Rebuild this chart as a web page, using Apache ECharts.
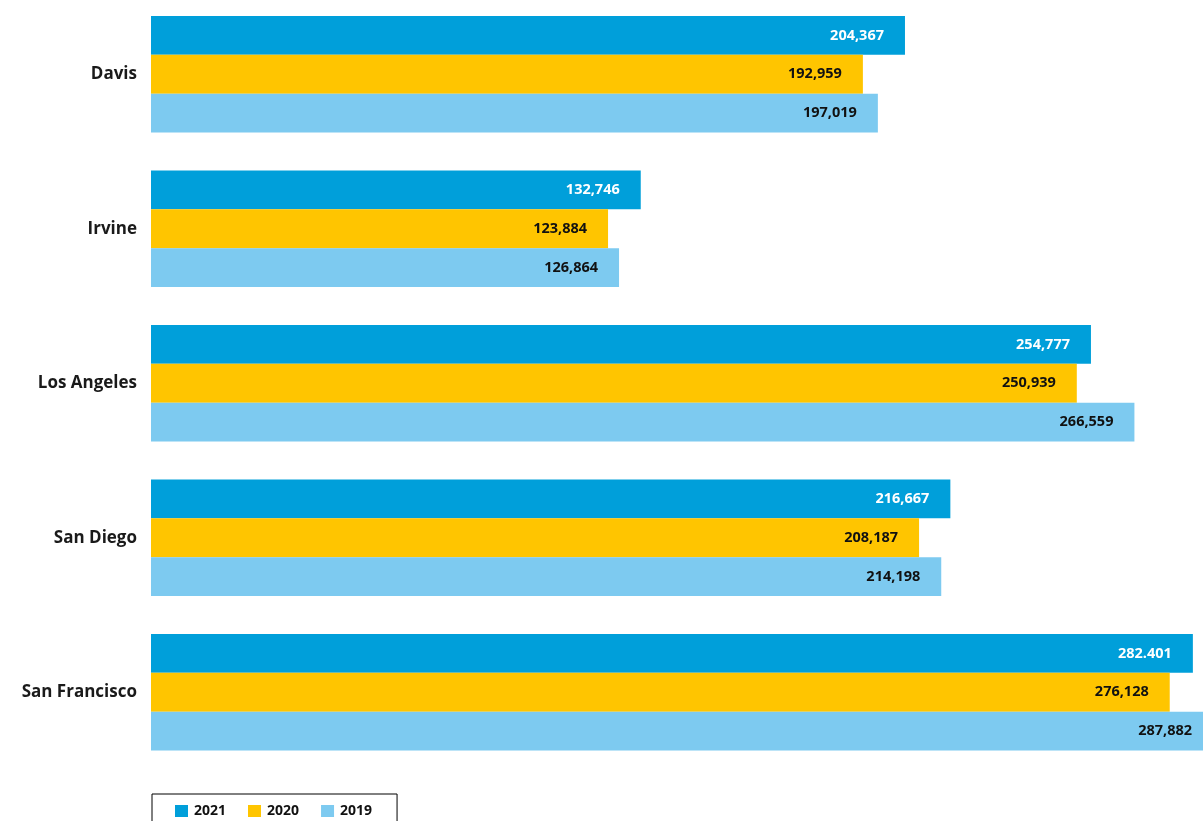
<!DOCTYPE html>
<html>
<head>
<meta charset="UTF-8" />
<title>Campus bars</title>
<script src="https://cdn.jsdelivr.net/npm/echarts@6/dist/echarts.min.js"></script>
<style type="text/css">
body{
	margin: 0px;
	background: #fff;
	overflow: hidden;
}
/* the chart runs past the right and top edges of the picture */
#chart{
	width: 1262px;
	height: 826px;
	margin-top: -3px;
}
</style>
</head>
<body>
<div id="chart"></div>
<script type="text/javascript">

var campuses = ['Davis', 'Irvine', 'Los Angeles', 'San Diego', 'San Francisco'];
var years = ['2021', '2020', '2019'];

var values2021 = [204367, 132746, 254777, 216667, 282401];
var values2020 = [192959, 123884, 250939, 208187, 276128];
var values2019 = [197019, 126864, 266559, 214198, 287882];

// labels as printed (the SF 2021 one uses a period)
var labels2021 = ['204,367', '132,746', '254,777', '216,667', '282.401'];
var labels2020 = ['192,959', '123,884', '250,939', '208,187', '276,128'];
var labels2019 = ['197,019', '126,864', '266,559', '214,198', '287,882'];

var colors = ['#009fda', '#ffc500', '#7dcaf0'];

function makeSeries(name, values, labels, color, textColor){
	return {
		name: name,
		type: 'bar',
		data: values,
		itemStyle: { color: color },
		barGap: '0%',
		barCategoryGap: '24.6%',
		label: {
			show: true,
			position: 'insideRight',
			distance: 21,
			color: textColor,
			fontFamily: 'Open Sans',
			fontWeight: 'bold',
			fontSize: 14.5,
			formatter: function(p){ return labels[p.dataIndex]; }
		}
	};
}

var myChart = echarts.init(document.getElementById('chart'));
myChart.setOption({
	animation: false,
	grid: { left: 151, top: 0, width: 1106.8, height: 772.5 },
	xAxis: {
		type: 'value',
		min: 0,
		max: 300000,
		show: false
	},
	yAxis: {
		type: 'category',
		data: campuses,
		inverse: true,
		axisLine: { show: false },
		axisTick: { show: false },
		axisLabel: {
			margin: 14,
			color: '#1a1a1a',
			fontFamily: 'Open Sans',
			fontWeight: 'bold',
			fontSize: 17
		}
	},
	legend: {
		data: years,
		left: 152,
		top: 797,
		orient: 'horizontal',
		borderColor: '#000',
		borderWidth: 1,
		borderRadius: 0,
		padding: [10, 25, 10, 23],
		itemWidth: 13,
		itemHeight: 12,
		itemGap: 22,
		icon: 'rect',
		textStyle: {
			color: '#111',
			fontFamily: 'Open Sans',
			fontWeight: 'bold',
			fontSize: 14,
			padding: [0, 0, 0, 1]
		}
	},
	series: [
		makeSeries('2021', values2021, labels2021, colors[0], '#fff'),
		makeSeries('2020', values2020, labels2020, colors[1], '#111'),
		makeSeries('2019', values2019, labels2019, colors[2], '#111')
	]
});

</script>
</body>
</html>
